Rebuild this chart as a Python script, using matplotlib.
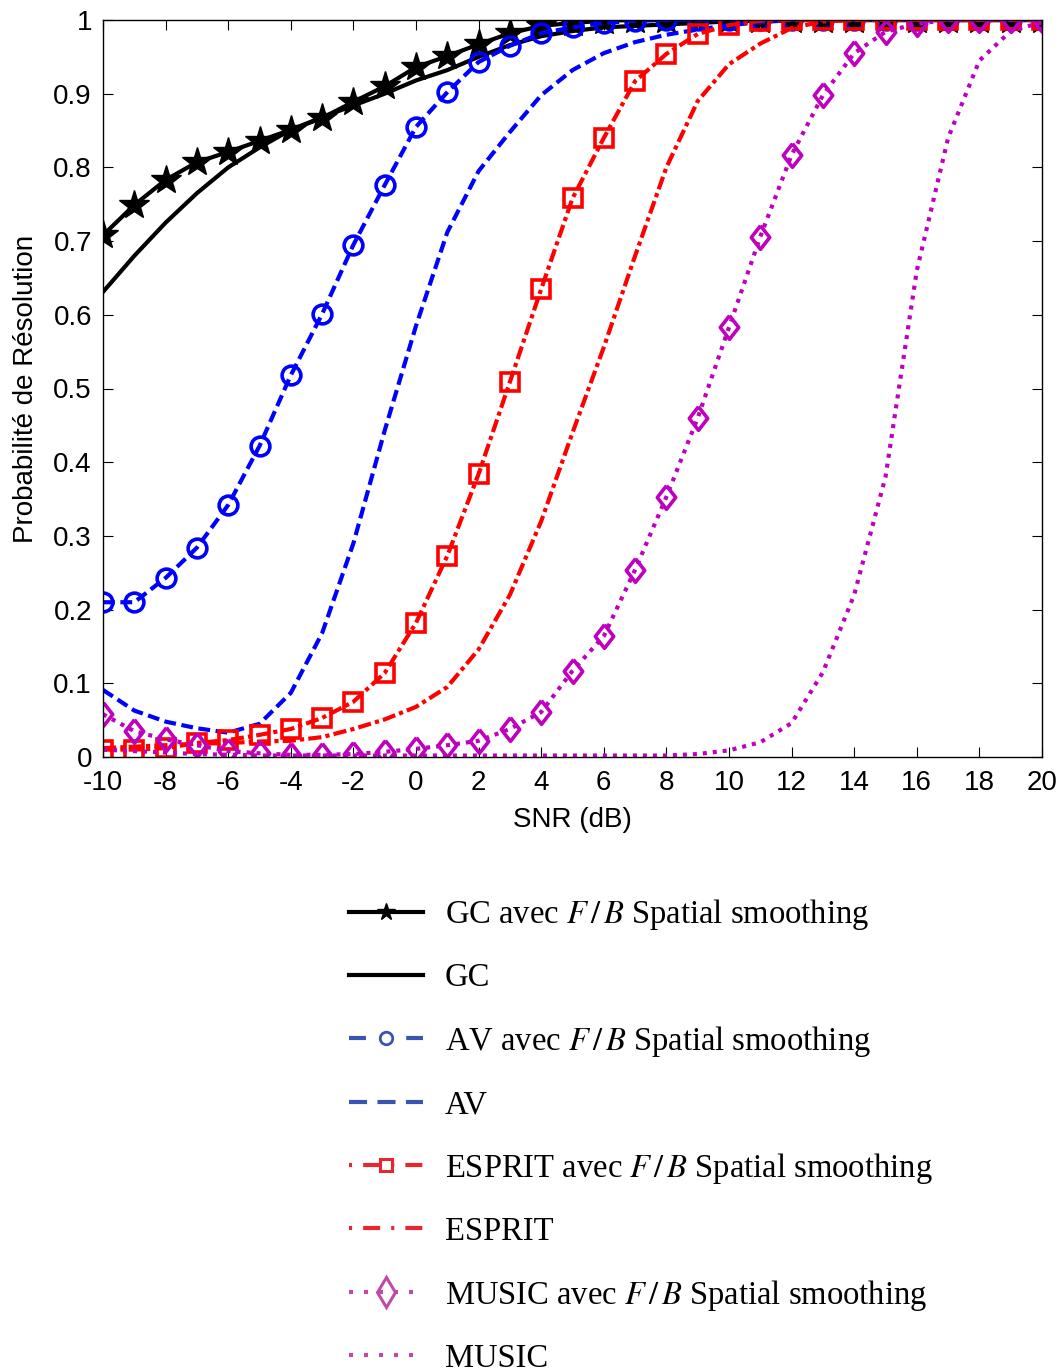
import matplotlib
matplotlib.use("Agg")
import matplotlib.pyplot as plt
from matplotlib.lines import Line2D
import numpy as np

plt.rcParams['font.family'] = ['Liberation Sans', 'DejaVu Sans']
plt.rcParams['mathtext.fontset'] = 'stix'
plt.rcParams['lines.scale_dashes'] = False
plt.rcParams['axes.unicode_minus'] = False

snr = list(range(-10, 21))

gc_fb = [0.708, 0.749, 0.783, 0.807, 0.821, 0.836, 0.851, 0.867, 0.889, 0.910,
         0.936, 0.951, 0.967, 0.982, 0.992, 0.996, 0.999, 1, 1, 1,
         1, 1, 1, 1, 1, 1, 1, 1, 1, 1, 1]
gc = [0.631, 0.680, 0.725, 0.765, 0.800, 0.827, 0.851, 0.868, 0.884, 0.900,
      0.918, 0.932, 0.950, 0.966, 0.978, 0.985, 0.990, 0.992, 0.994, 0.996,
      0.998, 0.999, 1, 1, 1, 1, 1, 1, 1, 1, 1]
av_fb = [0.210, 0.210, 0.243, 0.284, 0.342, 0.422, 0.518, 0.601, 0.695, 0.776,
         0.855, 0.902, 0.943, 0.965, 0.982, 0.990, 0.996, 0.999, 1, 1,
         1, 1, 1, 1, 1, 1, 1, 1, 1, 1, 1]
av = [0.091, 0.063, 0.048, 0.039, 0.033, 0.045, 0.087, 0.168, 0.290, 0.443,
      0.585, 0.712, 0.795, 0.848, 0.898, 0.932, 0.955, 0.970, 0.980, 0.987,
      0.993, 0.997, 1, 1, 1, 1, 1, 1, 1, 1, 1]
esprit_fb = [0.010, 0.010, 0.012, 0.019, 0.023, 0.030, 0.038, 0.053, 0.075, 0.114,
             0.182, 0.273, 0.384, 0.509, 0.635, 0.758, 0.840, 0.917, 0.954, 0.981,
             0.993, 0.999, 1, 1, 1, 1, 1, 1, 1, 1, 1]
esprit = [0.012, 0.014, 0.016, 0.018, 0.019, 0.021, 0.022, 0.027, 0.038, 0.051,
          0.068, 0.095, 0.146, 0.220, 0.320, 0.440, 0.556, 0.680, 0.800, 0.890,
          0.940, 0.968, 0.989, 0.998, 1, 1, 1, 1, 1, 1, 1]
music_fb = [0.058, 0.035, 0.024, 0.016, 0.008, 0.005, 0.003, 0.003, 0.004, 0.007,
            0.011, 0.016, 0.022, 0.038, 0.061, 0.117, 0.164, 0.254, 0.353, 0.460,
            0.583, 0.706, 0.817, 0.898, 0.955, 0.984, 0.995, 1, 1, 1, 1]
music = [0.010, 0.008, 0.006, 0.004, 0.003, 0.002, 0.002, 0.002, 0.002, 0.002,
         0.002, 0.002, 0.002, 0.002, 0.002, 0.002, 0.002, 0.002, 0.002, 0.004,
         0.009, 0.020, 0.046, 0.115, 0.220, 0.380, 0.660, 0.840, 0.945, 0.985, 0.997]

labels = [r"GC avec $F\,/\,B$ Spatial smoothing", "GC",
          r"AV avec $F\,/\,B$ Spatial smoothing", "AV",
          r"ESPRIT avec $F\,/\,B$ Spatial smoothing", "ESPRIT",
          r"MUSIC avec $F\,/\,B$ Spatial smoothing", "MUSIC"]

BLUE = '#0000ff'
RED = '#ff0000'
MAG = '#bf00bf'
DASH = (0, (8.5, 4.0))
DOT = (0, (2.9, 4.3))
DASHDOT = (0, (9.5, 3.0, 3.0, 3.0))
TALL_DIAMOND = [(0, 1), (0.78, 0), (0, -1), (-0.78, 0), (0, 1)]

fig = plt.figure(figsize=(10.61, 13.72), dpi=100)
ax = fig.add_axes([103/1061, 1-757/1372, (1042-103)/1061, (757-20)/1372])

lw = 3.0
ax.plot(snr, gc_fb, color='k', lw=lw, ls='-', marker='*', ms=22, mew=1, mfc='k', mec='k')
ax.plot(snr, gc, color='k', lw=lw, ls='-')
ax.plot(snr, av_fb, color=BLUE, lw=lw, ls=DASH, marker='o', ms=13.5, mew=2.6, mfc='none', mec=BLUE, dash_capstyle='butt')
ax.plot(snr, av, color=BLUE, lw=lw, ls=DASH, dash_capstyle='butt')
ax.plot(snr, esprit_fb, color=RED, lw=lw, ls=DASHDOT, marker='s', ms=13.5, mew=2.6, mfc='none', mec=RED, dash_capstyle='butt')
ax.plot(snr, esprit, color=RED, lw=lw, ls=DASHDOT, dash_capstyle='butt')
ax.plot(snr, music_fb, color=MAG, lw=lw, ls=DOT, marker=TALL_DIAMOND, ms=17, mew=2.6, mfc='none', mec=MAG, dash_capstyle='butt')
ax.plot(snr, music, color=MAG, lw=lw, ls=DOT, dash_capstyle='butt')

ax.set_xlim(-10, 20)
ax.set_ylim(0, 1)
ax.set_xticks(range(-10, 21, 2))
ax.set_yticks([i/10 for i in range(11)])
ax.set_yticklabels(['0', '0.1', '0.2', '0.3', '0.4', '0.5', '0.6', '0.7', '0.8', '0.9', '1'])
ax.tick_params(direction='in', length=7, width=0.8, top=True, right=True, labelsize=20)
ax.tick_params(axis='x', pad=9)
ax.tick_params(axis='y', pad=8)
for s in ax.spines.values():
    s.set_linewidth(1.0)
ax.set_xlabel('SNR (dB)', fontsize=20, labelpad=8)
ax.set_ylabel('Probabilité de Résolution', fontsize=20, labelpad=10)

LB = '#3a55b0'
LR = '#e8262d'
LM = '#c04aa8'
handles = [
    Line2D([], [], color='k', lw=3, ls='-', marker='*', ms=13, mfc='k', mec='k'),
    Line2D([], [], color='k', lw=3, ls='-'),
    Line2D([], [], color=LB, lw=3, ls=(0, (12.2, 29.0)), marker='o', ms=9, mew=2, mfc='none', mec=LB, dash_capstyle='butt'),
    Line2D([], [], color=LB, lw=3, ls=(0, (13.0, 7.5)), dash_capstyle='butt'),
    Line2D([], [], color=LR, lw=3, ls=(0, (2.2, 8.0, 12.2, 8.0)), marker='s', ms=8, mew=2.2, mfc='none', mec=LR, dash_capstyle='butt'),
    Line2D([], [], color=LR, lw=3, ls=(0, (2.2, 8.0, 12.2, 8.0)), dash_capstyle='butt'),
    Line2D([], [], color=LM, lw=3, ls=(0, (2.9, 7.9)), marker='d', ms=15, mew=2.2, mfc='none', mec=LM, dash_capstyle='butt'),
    Line2D([], [], color=LM, lw=3, ls=(0, (2.9, 7.9)), dash_capstyle='butt'),
]
leg = fig.legend(handles, labels, loc='upper left', bbox_to_anchor=(349/1061, 1-897/1372),
                 frameon=False, borderpad=0, borderaxespad=0,
                 prop={'family': 'Liberation Serif', 'size': 23.5},
                 handlelength=2.27, handletextpad=0.67, labelspacing=0.94)

fig.savefig('out.png', dpi=100)
